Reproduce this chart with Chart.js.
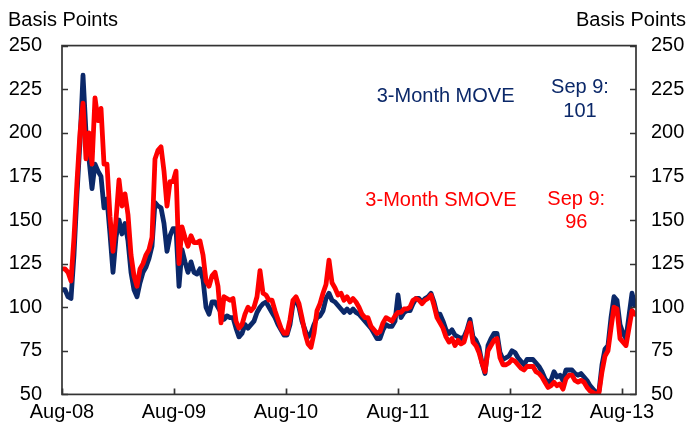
<!DOCTYPE html>
<html>
<head>
<meta charset="utf-8">
<script src="https://cdn.jsdelivr.net/npm/chart.js@4/dist/chart.umd.min.js"></script>
<style>
  html, body { margin: 0; padding: 0; background: #ffffff; }
  #wrap { width: 691px; height: 430px; position: relative; }
</style>
</head>
<body>
<div id="wrap"><canvas id="c" width="691" height="430"></canvas></div>
<script>
// ---- data ----
// sample positions, in months since Aug-2008 (about every 10 days)
const xTickMonths = [0, 12, 24, 36, 48, 60];
const xTickLabels = ['Aug-08', 'Aug-09', 'Aug-10', 'Aug-11', 'Aug-12', 'Aug-13'];
const yTicks = [50, 75, 100, 125, 150, 175, 200, 225, 250];

// 3-Month MOVE (basis points)
const move = [
  110,110,106,105,130,165,195,233,200,185,
  168,182,178,175,157,162,142,120,140,150,
  142,148,138,120,110,106,114,120,123,128,
  135,160,158,157,148,132,141,145,145,112,
  133,126,120,126,120,119,122,116,100,96,
  103,103,100,97,93,95,94,94,88,83,
  85,90,88,90,92,97,100,102,103,100,
  97,94,90,87,84,84,90,102,104,100,
  92,87,83,85,90,94,95,98,105,108,
  104,103,101,99,97,99,97,99,97,96,
  94,92,90,88,85,82,82,87,90,89,
  89,92,107,94,97,98,98,102,105,105,
  103,105,106,108,103,96,96,92,87,85,
  87,84,83,82,83,87,93,83,81,77,
  68,62,78,82,85,85,74,70,71,72,
  75,74,71,69,67,70,70,70,68,66,
  63,59,57,58,63,60,61,58,64,64,
  64,62,61,62,60,58,55,53,51,52,
  67,76,78,94,106,104,90,85,82,95,
  108,101
];

// 3-Month SMOVE (basis points)
const smove = [
  122,122,120,115,140,172,200,217,185,200,
  182,220,207,214,182,182,152,132,150,173,
  158,165,153,130,118,112,122,125,130,133,
  140,185,190,192,178,158,172,172,178,125,
  146,140,135,141,137,137,138,130,115,112,
  118,120,112,91,106,105,104,105,92,88,
  90,96,100,98,100,106,121,108,107,104,
  104,98,93,88,85,85,93,104,106,102,
  94,85,79,77,85,98,102,108,113,127,
  114,111,107,108,104,106,103,105,103,100,
  96,94,94,89,87,85,86,91,94,93,
  92,95,97,97,99,99,100,104,105,104,
  102,104,105,107,101,94,91,88,83,80,
  82,78,81,79,80,86,91,80,78,74,
  68,63,75,78,81,82,71,67,67,68,
  70,69,67,65,64,66,66,66,63,62,
  60,57,54,55,57,55,56,53,59,61,
  61,58,57,58,57,54,52,51,50,51,
  63,72,75,88,100,99,82,80,78,88,
  98,96
];

const sampleStepMonths = 9 / 28;
const sampleMonths = move.map((_, i) => i * sampleStepMonths);

const NAVY = '#0b2869';
const RED = '#ff0000';
const FONT = '"Liberation Sans", Arial, sans-serif';

const annotations = [
  { text: '3-Month MOVE', x: 41.1, y: 221, color: NAVY },
  { text: 'Sep 9:', x: 55.5, y: 225.7, color: NAVY },
  { text: '101', x: 55.5, y: 212, color: NAVY },
  { text: '3-Month SMOVE', x: 40.6, y: 161, color: RED },
  { text: 'Sep 9:', x: 55.1, y: 162, color: RED },
  { text: '96', x: 55.1, y: 148.3, color: RED }
];

const framePlugin = {
  id: 'frame',
  afterDatasetsDraw(chart) {
    const ctx = chart.ctx;
    const { left, right, top, bottom } = chart.chartArea;
    const ys = chart.scales.y, xs = chart.scales.x;
    ctx.save();
    ctx.strokeStyle = '#333333';
    ctx.lineWidth = 1.7;
    ctx.strokeRect(left, top, right - left, bottom - top);
    ctx.beginPath();
    yTicks.forEach(v => {
      const py = Math.round(ys.getPixelForValue(v)) + 0.5;
      ctx.moveTo(left, py); ctx.lineTo(left + 6, py);
      ctx.moveTo(right, py); ctx.lineTo(right - 6, py);
    });
    xTickMonths.forEach(v => {
      const px = Math.round(xs.getPixelForValue(v)) + 0.5;
      ctx.moveTo(px, bottom); ctx.lineTo(px, bottom - 6);
    });
    ctx.stroke();

    ctx.font = '20px ' + FONT;
    ctx.textAlign = 'center';
    ctx.textBaseline = 'middle';
    annotations.forEach(a => {
      ctx.fillStyle = a.color;
      ctx.fillText(a.text, xs.getPixelForValue(a.x), ys.getPixelForValue(a.y));
    });

    ctx.fillStyle = '#000000';
    ctx.textBaseline = 'alphabetic';
    ctx.textAlign = 'left';
    ctx.fillText('Basis Points', 8, 26);
    ctx.textAlign = 'right';
    ctx.fillText('Basis Points', 686, 26);
    ctx.restore();
  }
};

new Chart(document.getElementById('c'), {
  type: 'line',
  data: {
    datasets: [
      {
        label: '3-Month SMOVE',
        data: sampleMonths.map((m, i) => ({ x: m, y: smove[i] })),
        borderColor: RED,
        borderWidth: 4.8,
        pointRadius: 0,
        tension: 0,
        borderJoinStyle: 'round',
        borderCapStyle: 'round',
        order: 0
      },
      {
        label: '3-Month MOVE',
        data: sampleMonths.map((m, i) => ({ x: m, y: move[i] })),
        borderColor: NAVY,
        borderWidth: 4.8,
        pointRadius: 0,
        tension: 0,
        borderJoinStyle: 'round',
        borderCapStyle: 'round',
        order: 1
      }
    ]
  },
  options: {
    responsive: false,
    animation: false,
    devicePixelRatio: 1,
    layout: { padding: { top: 45.6, left: 0, right: 0, bottom: 0 } },
    plugins: { legend: { display: false }, tooltip: { enabled: false } },
    scales: {
      x: {
        type: 'linear',
        min: 0,
        max: 61.5,
        afterBuildTicks(scale) { scale.ticks = xTickMonths.map(v => ({ value: v })); },
        afterFit(scale) { scale.height = 35.6; },
        grid: { display: false, drawTicks: false },
        border: { display: false },
        ticks: {
          color: '#000000',
          font: { family: FONT, size: 20 },
          padding: 6,
          maxRotation: 0,
          autoSkip: false,
          callback(v) { const i = xTickMonths.indexOf(v); return i >= 0 ? xTickLabels[i] : ''; }
        }
      },
      y: {
        position: 'left',
        min: 50,
        max: 250,
        afterBuildTicks(scale) { scale.ticks = yTicks.map(v => ({ value: v })); },
        afterFit(scale) { scale.width = 62; },
        grid: { display: false, drawTicks: false },
        border: { display: false },
        ticks: { color: '#000000', font: { family: FONT, size: 20 }, padding: 20 }
      },
      y2: {
        position: 'right',
        min: 50,
        max: 250,
        afterBuildTicks(scale) { scale.ticks = yTicks.map(v => ({ value: v })); },
        afterFit(scale) { scale.width = 55; },
        grid: { display: false, drawTicks: false },
        border: { display: false },
        ticks: { color: '#000000', font: { family: FONT, size: 20 }, padding: 15 }
      }
    }
  },
  plugins: [framePlugin]
});
</script>
</body>
</html>
